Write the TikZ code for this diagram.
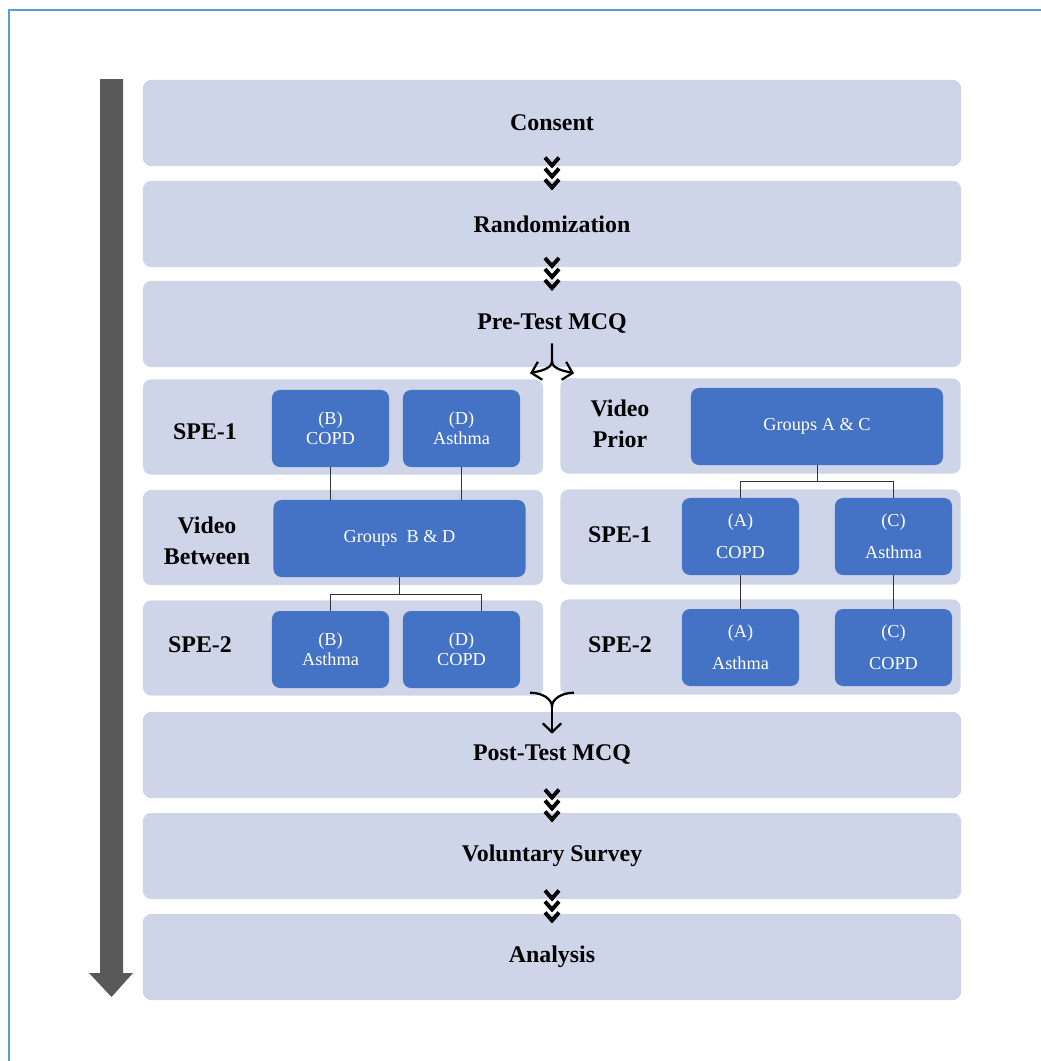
\documentclass[tikz,border=0pt]{standalone}
\usepackage{fontspec}
\setmainfont{Liberation Serif}
\usetikzlibrary{arrows.meta,calc}
\definecolor{panel}{HTML}{CFD5E9}
\definecolor{boxblue}{HTML}{4472C4}
\definecolor{frameblue}{HTML}{5B9BD5}
\definecolor{bargray}{HTML}{595959}

\tikzset{
  stage/.style={fill=panel, rounded corners=0.2cm, minimum width=20.45cm, minimum height=2.15cm,
    font=\fontsize{17}{22}\selectfont\bfseries},
  half/.style={fill=panel, rounded corners=0.2cm, minimum width=10cm, minimum height=2.375cm},
  grp/.style={fill=boxblue, rounded corners=0.2cm, text=white, align=center,
    minimum width=2.925cm, minimum height=1.925cm, font=\fontsize{13}{14}\selectfont},
  tall/.style={font=\fontsize{13}{23}\selectfont},
  wide/.style={grp, minimum width=6.3cm},
  lbl/.style={align=center, font=\fontsize{17}{22}\selectfont\bfseries},
  link/.style={draw=black!80, line width=0.6pt},
  flow/.style={line width=1.6pt, -{Straight Barb[length=2.2mm,width=4.6mm]}},
  pics/chev/.style={code={
    \foreach \k in {-11,0,11}
      \draw[line width=2.8pt] (-7,\k-5) -- (0,\k+3) -- (7,\k-5);
  }}
}

\begin{document}
\begin{tikzpicture}[x=0.025cm, y=-0.025cm]

    \useasboundingbox (0,0) rectangle (1041,1061);
    \draw[frameblue, line width=1.2pt] (9,1061) -- (9,10) -- (1041,10);

    % time arrow
    \fill[bargray] (100,79) -- (123,79) -- (123,973) -- (133,973) -- (111.5,997)
        -- (89,973) -- (100,973) -- cycle;

    \node[stage] (consent) at (552,123) {Consent};
    \node[stage] (rand) at (552,224) {Randomization};
    \node[stage] (pre) at (552,324) {Pre-Test MCQ};
    \node[stage] (post) at (552,755) {Post-Test MCQ};
    \node[stage] (survey) at (552,856) {Voluntary Survey};
    \node[stage] (analysis) at (552,957) {Analysis};

    \pic at ($(consent.south)!0.5!(rand.north)$) {chev};
    \pic at ($(rand.south)!0.5!(pre.north)$) {chev};
    \pic at ($(post.south)!0.5!(survey.north)$) {chev};
    \pic at ($(survey.south)!0.5!(analysis.north)$) {chev};

    % two arms
    \node[half] (l1) at (343,427) {};
    \node[half] (l2) at (343,537.5) {};
    \node[half] (l3) at (343,648) {};
    \node[half] (r1) at (760.5,426) {};
    \node[half] (r2) at (760.5,537) {};
    \node[half] (r3) at (760.5,647) {};

    \node[lbl] (l1t) at (205,432) {SPE-1};
    \node[lbl] (l2t) at (207,541) {Video\\Between};
    \node[lbl] (l3t) at (200,645) {SPE-2};
    \node[lbl] (r1t) at (620,424) {Video\\Prior};
    \node[lbl] (r2t) at (620,535) {SPE-1};
    \node[lbl] (r3t) at (620,645) {SPE-2};

    \node[grp] (b1) at (330.5,428.5) {(B)\\COPD};
    \node[grp] (d1) at (461.5,428.5) {(D)\\Asthma};
    \node[wide] (gbd) at (399.5,538.5) {Groups~ B \& D};
    \node[grp] (b2) at (330.5,649.5) {(B)\\Asthma};
    \node[grp] (d2) at (461.5,649.5) {(D)\\COPD};

    \node[wide] (gac) at (817,426.5) {Groups A \& C};
    \node[grp, tall] (a1) at (740.5,536.5) {(A)\\COPD};
    \node[grp, tall] (c1) at (893.5,536.5) {(C)\\Asthma};
    \node[grp, tall] (a2) at (740.5,647.5) {(A)\\Asthma};
    \node[grp, tall] (c2) at (893.5,647.5) {(C)\\COPD};

    \draw[link] (b1.south) -- (b1.south |- gbd.north);
    \draw[link] (d1.south) -- (d1.south |- gbd.north);
    \draw[link] (gbd.south) -- ++(0,17) coordinate (jbd);
    \draw[link] (b2.north) |- (jbd) -| ([xshift=0.49cm]d2.north);

    \draw[link] (gac.south) -- ++(0,16) coordinate (jac);
    \draw[link] (a1.north) |- (jac) -| (c1.north);
    \draw[link] (a1.south) -- (a2.north);
    \draw[link] (c1.south) -- (c2.north);

    % split and join
    \coordinate (split) at ($(pre.south)+(0,-24)$);
    \draw[flow] (split) -- ++(0,18) coordinate (fork)
        .. controls +(0,8) and +(8,-2) .. ++(-22,12);
    \draw[flow] (fork) .. controls +(0,8) and +(-8,-2) .. ++(22,12);

    \coordinate (join) at ($(post.north)+(0,-5)$);
    \draw[line width=1.6pt] ($(join)+(-22,-14)$) .. controls +(12,0) and +(0,-8) .. (join)
        .. controls +(0,-8) and +(-12,0) .. ($(join)+(22,-14)$);
    \draw[flow] (join) -- ++(0,27);

\end{tikzpicture}
\end{document}
